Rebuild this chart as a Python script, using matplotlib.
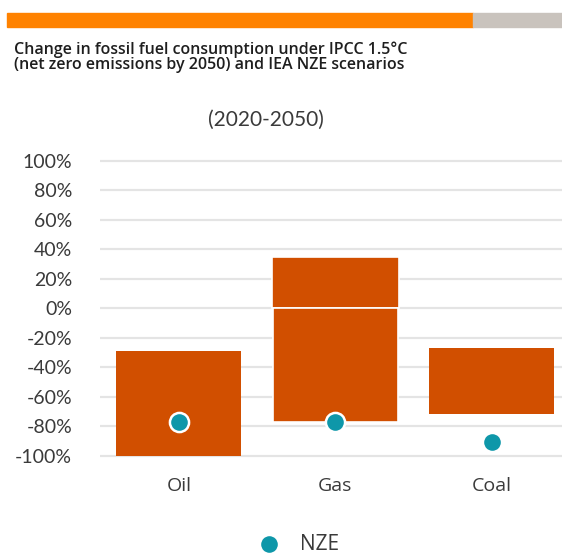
import matplotlib.pyplot as plt
from matplotlib.patches import Rectangle

# change 2020-2050 (%), range under IPCC 1.5C, dot = IEA NZE
fuels = ['Oil', 'Gas', 'Coal']
range_low = [-100, -77, -72]
range_high = [-29, 35, -27]
nze = [-77, -77, -91]
yticks = list(range(-100, 101, 20))

bar_color = '#D14F00'
dot_color = '#0E97A9'
text_color = '#3A3A3A'

fig = plt.figure(figsize=(5.62, 5.53), dpi=100)

# orange / grey band at the top
fig.patches.append(Rectangle((7 / 562, 1 - 27 / 553), (473 - 7) / 562, 14 / 553,
                             transform=fig.transFigure, color='#FF8200', zorder=0))
fig.patches.append(Rectangle((473 / 562, 1 - 27 / 553), (562 - 473) / 562, 14 / 553,
                             transform=fig.transFigure, color='#C9C3BD', zorder=0))

fig.text(14 / 562, 1 - 57 / 553,
         'Change in fossil fuel consumption under IPCC 1.5°C\n'
         '(net zero emissions by 2050) and IEA NZE scenarios',
         fontsize=11.5, family='Open Sans', weight='semibold', color='#1E1E1E',
         va='center', linespacing=0.95)
fig.text(266 / 562, 1 - 120 / 553, '(2020-2050)', fontsize=15, family='Lato',
         color=text_color, ha='center', va='center')

ax = fig.add_axes([100 / 562, 0.168, 462 / 562, 0.549])
ax.set_xlim(-0.505, 2.45)
ax.set_ylim(-103, 103)

x = range(len(fuels))
for i in x:
    lo, hi = range_low[i], range_high[i]
    if lo < 0 < hi:
        # split at zero, as in the original
        ax.bar(i, hi, bottom=0, width=0.81, color=bar_color, edgecolor='white',
               linewidth=1.2, zorder=2)
        ax.bar(i, lo, bottom=0, width=0.8, color=bar_color, edgecolor='white',
               linewidth=1.2, zorder=2)
    else:
        ax.bar(i, hi - lo, bottom=lo, width=0.8, color=bar_color, zorder=2)

ax.scatter(x, nze, s=190, color=dot_color, edgecolor='white', linewidth=1.8,
           zorder=3, label='NZE')

ax.set_yticks(yticks)
ax.set_yticklabels([f'{v}%' for v in yticks], family='Lato', fontsize=14,
                   color=text_color)
ax.set_xticks(list(x))
ax.set_xticklabels(fuels, family='Open Sans', fontsize=14, color=text_color)
ax.tick_params(axis='y', length=0, pad=20)
ax.tick_params(axis='x', length=0, pad=12)
ax.grid(axis='y', color='#E4E4E4', linewidth=1.6)
ax.set_axisbelow(True)
for s in ax.spines.values():
    s.set_visible(False)

fig.legend(loc='center', bbox_to_anchor=(294 / 562, 1 - 544 / 553), frameon=False,
           prop={'family': 'Open Sans', 'size': 15}, handletextpad=0.5,
           markerscale=1.0, labelcolor=text_color)

fig.savefig('out.png', dpi=100)
